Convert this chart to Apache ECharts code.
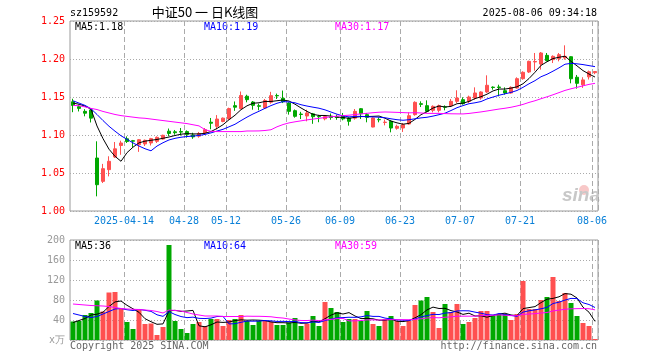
<!DOCTYPE html>
<html><head><meta charset="utf-8">
<script src="https://cdn.jsdelivr.net/npm/echarts@6/dist/echarts.min.js"></script>
<style>html,body{margin:0;padding:0;background:#fff}#c{width:660px;height:360px}</style>
</head><body><div id="c"></div>
<script>
const dates = ['2025-03-31','2025-04-01','2025-04-02','2025-04-03','2025-04-07','2025-04-08','2025-04-09','2025-04-10','2025-04-11',
'2025-04-14','2025-04-15','2025-04-16','2025-04-17','2025-04-18','2025-04-21','2025-04-22','2025-04-23','2025-04-24','2025-04-25',
'2025-04-28','2025-04-29','2025-04-30','2025-05-06','2025-05-07','2025-05-08','2025-05-09',
'2025-05-12','2025-05-13','2025-05-14','2025-05-15','2025-05-16','2025-05-19','2025-05-20','2025-05-21','2025-05-22','2025-05-23',
'2025-05-26','2025-05-27','2025-05-28','2025-05-29','2025-05-30','2025-06-03','2025-06-04','2025-06-05','2025-06-06',
'2025-06-09','2025-06-10','2025-06-11','2025-06-12','2025-06-13','2025-06-16','2025-06-17','2025-06-18','2025-06-19','2025-06-20',
'2025-06-23','2025-06-24','2025-06-25','2025-06-26','2025-06-27','2025-06-30','2025-07-01','2025-07-02','2025-07-03','2025-07-04',
'2025-07-07','2025-07-08','2025-07-09','2025-07-10','2025-07-11','2025-07-14','2025-07-15','2025-07-16','2025-07-17','2025-07-18',
'2025-07-21','2025-07-22','2025-07-23','2025-07-24','2025-07-25','2025-07-28','2025-07-29','2025-07-30','2025-07-31','2025-08-01',
'2025-08-04','2025-08-05','2025-08-06'];
const opens = [1.1437,1.1373,1.1311,1.1330,1.0697,1.0390,1.0544,1.0712,1.0862,1.0950,
1.0925,1.0872,1.0882,1.0895,1.0917,1.0947,1.1050,1.1042,1.1045,1.1045,
1.1000,1.0985,1.1026,1.1168,1.1114,1.1178,1.1212,1.1386,1.1348,1.1510,
1.1434,1.1385,1.1355,1.1432,1.1520,1.1483,1.1421,1.1320,1.1275,1.1250,
1.1278,1.1245,1.1213,1.1236,1.1236,1.1252,1.1224,1.1222,1.1346,1.1268,
1.1105,1.1205,1.1165,1.1180,1.1088,1.1092,1.1145,1.1268,1.1412,1.1386,
1.1325,1.1325,1.1370,1.1386,1.1443,1.1465,1.1443,1.1487,1.1487,1.1566,
1.1630,1.1632,1.1583,1.1553,1.1618,1.1741,1.1829,1.1961,1.1934,1.2048,
1.1991,1.2004,1.2013,1.2030,1.1760,1.1660,1.1765,1.1820];
const closes = [1.1388,1.1350,1.1287,1.1222,1.0346,1.0557,1.0654,1.0818,1.0895,1.0914,
1.0918,1.0938,1.0930,1.0952,1.0969,1.0996,1.1020,1.1030,1.1038,1.1008,
1.0975,1.1020,1.1070,1.1155,1.1210,1.1222,1.1348,1.1366,1.1520,1.1465,
1.1390,1.1378,1.1454,1.1518,1.1515,1.1437,1.1311,1.1246,1.1270,1.1290,
1.1241,1.1240,1.1242,1.1230,1.1230,1.1212,1.1180,1.1311,1.1280,1.1232,
1.1224,1.1200,1.1169,1.1092,1.1114,1.1136,1.1254,1.1430,1.1403,1.1311,
1.1377,1.1386,1.1366,1.1443,1.1487,1.1412,1.1500,1.1553,1.1566,1.1654,
1.1625,1.1625,1.1553,1.1627,1.1741,1.1825,1.1969,1.1967,1.2079,1.1978,
1.2035,1.2057,1.2035,1.1740,1.1680,1.1725,1.1832,1.1835];
const lows = [1.1300,1.1310,1.1246,1.1165,1.0193,1.0368,1.0456,1.0697,1.0740,1.0895,
1.0840,1.0778,1.0855,1.0862,1.0895,1.0939,1.0985,1.1004,1.0993,1.0965,
1.0950,1.0965,1.1013,1.1075,1.1075,1.1167,1.1200,1.1318,1.1338,1.1430,
1.1333,1.1325,1.1342,1.1412,1.1474,1.1420,1.1268,1.1228,1.1210,1.1180,
1.1147,1.1168,1.1193,1.1200,1.1200,1.1193,1.1123,1.1202,1.1210,1.1167,
1.1101,1.1167,1.1127,1.1035,1.1070,1.1040,1.1136,1.1254,1.1368,1.1298,
1.1298,1.1298,1.1325,1.1368,1.1421,1.1400,1.1421,1.1465,1.1465,1.1553,
1.1596,1.1509,1.1531,1.1544,1.1610,1.1728,1.1816,1.1846,1.1860,1.1969,
1.1947,1.1969,1.1991,1.1680,1.1610,1.1620,1.1730,1.1800];
const highs = [1.1477,1.1400,1.1340,1.1345,1.0917,1.0620,1.0720,1.0908,1.0925,1.0982,
1.0935,1.0947,1.0940,1.0962,1.0982,1.1004,1.1085,1.1066,1.1092,1.1061,
1.1030,1.1040,1.1092,1.1224,1.1262,1.1230,1.1360,1.1441,1.1572,1.1530,
1.1447,1.1412,1.1474,1.1568,1.1545,1.1585,1.1430,1.1336,1.1305,1.1333,
1.1290,1.1265,1.1260,1.1283,1.1268,1.1290,1.1237,1.1342,1.1355,1.1290,
1.1232,1.1232,1.1202,1.1193,1.1136,1.1158,1.1298,1.1443,1.1443,1.1456,
1.1390,1.1400,1.1390,1.1474,1.1588,1.1496,1.1518,1.1627,1.1575,1.1785,
1.1640,1.1662,1.1627,1.1640,1.1759,1.1838,1.1978,1.2079,1.2092,1.2079,
1.2048,1.2079,1.2180,1.2035,1.1790,1.1760,1.1848,1.1840];
const volumes = [37,38,50,54,79,57,95,96,63,36,
22,60,32,33,10,26,190,38,22,14,
32,36,28,42,42,28,40,42,50,38,
30,38,38,37,30,30,35,44,28,33,
48,28,76,64,56,36,42,42,38,58,
32,28,42,48,38,28,38,70,79,86,
56,24,72,56,72,32,36,44,58,58,
48,52,52,40,52,118,62,62,80,86,
126,78,94,74,48,34,28,2];
// moving-average values before enough history exists
const priceMA5Head = [1.142,1.1405,1.138,1.134];
const priceMA10Head = [1.145,1.142,1.139,1.1345,1.127,1.119,1.1115,1.105,1.099];
const priceMA30Head = [1.139,1.1385,1.137,1.135,1.1335,1.131,1.129,1.127,1.1255,1.1245,
1.1235,1.1225,1.122,1.121,1.120,1.119,1.118,1.117,1.116,1.115,
1.1135,1.112,1.107,1.1048,1.1045,1.1045,1.1045,1.1045,1.1045];
const volMA5Head = [35,39,43,50];
const volMA10Head = [53,50,47,45,47,52,57,62,63];
const volMA30Head = [72,71,70,69,68.5,68,67,65,63,62,61.5,61,60,59,57,54,60,59,58,55,52,50,48,48,48,47,47,47,47];
const labeledDates = ['2025-04-14','2025-04-28','2025-05-12','2025-05-26','2025-06-09','2025-06-23','2025-07-07','2025-07-21','2025-08-06'];
const labelTexts = ['2025-04-14','04-28','05-12','05-26','06-09','06-23','07-07','07-21','08-06'];
const priceTicks = [1.00,1.05,1.10,1.15,1.20,1.25];
const volTicks = [0,40,80,120,160,200];
const priceLegend = ['MA5:1.18','MA10:1.19','MA30:1.17'];
const volLegend = ['MA5:36','MA10:64','MA30:59'];
const maColors = ['#000000','#0000ff','#ff00ff'];

function movingAverage(vals, n, head){
  return vals.map((v,i)=>{
    if(i < n-1) return head[i];
    let s = 0; for(let j=i-n+1;j<=i;j++) s += vals[j];
    return s/n;
  });
}
const UP = '#ff5050', DOWN = '#00a800';
const MONO = '"DejaVu Sans Mono", "Liberation Mono", monospace';
const isLabeled = (i, v) => labeledDates.indexOf(v !== undefined ? v : dates[i]) >= 0;

const candleData = dates.map((d,i)=>[opens[i], closes[i], lows[i], highs[i]]);
const volData = volumes.map((v,i)=>({value: v, itemStyle:{color: closes[i] >= opens[i] ? UP : DOWN}}));

const pMA = [movingAverage(closes,5,priceMA5Head), movingAverage(closes,10,priceMA10Head), movingAverage(closes,30,priceMA30Head)];
const vMA = [movingAverage(volumes,5,volMA5Head), movingAverage(volumes,10,volMA10Head), movingAverage(volumes,30,volMA30Head)];

const gridCommon = {left:70, width:528, show:true, borderColor:'#9a9a9a', borderWidth:1, outerBoundsMode:'none', containLabel:false};
const splitV = {show:true, interval:(i,v)=>isLabeled(i,v), lineStyle:{color:'#aaaaaa', type:[5,3], width:1}};
const splitH = {show:true, lineStyle:{color:'#aaaaaa', type:[1,2], width:1}};

const chart = echarts.init(document.getElementById('c'), null, {renderer:'canvas'});
const legendX = [75, 204, 335];
const graphics = [
  {type:'text', x:70, y:13, style:{text:'sz159592', fill:'#000', font:'10px '+MONO, align:'left', verticalAlign:'middle'}},
  {type:'text', x:205, y:12, style:{text:'中证50 一 日K线图', fill:'#000', font:'13px "Noto Sans CJK SC"', align:'center', verticalAlign:'middle'}},
  {type:'text', x:597, y:13, style:{text:'2025-08-06 09:34:18', fill:'#000', font:'10px '+MONO, align:'right', verticalAlign:'middle'}},
  {type:'text', x:70, y:346, style:{text:'Copyright 2025 SINA.COM', fill:'#666', font:'10px '+MONO, align:'left', verticalAlign:'middle'}},
  {type:'text', x:597, y:346, style:{text:'http://finance.sina.com.cn', fill:'#666', font:'10px '+MONO, align:'right', verticalAlign:'middle'}},
  {type:'circle', shape:{cx:584, cy:190, r:5}, style:{fill:'#f8c8c8'}, z:0},
  {type:'text', x:581, y:205, style:{text:'sina', fill:'#c8c8c8', font:'italic bold 19px "Liberation Sans"', align:'center', verticalAlign:'bottom'}, z:0}
];
priceLegend.forEach((t,i)=>graphics.push({type:'text', x:legendX[i], y:27, style:{text:t, fill:maColors[i], font:'10px '+MONO, align:'left', verticalAlign:'middle'}}));
volLegend.forEach((t,i)=>graphics.push({type:'text', x:legendX[i], y:246, style:{text:t, fill:maColors[i], font:'10px '+MONO, align:'left', verticalAlign:'middle'}}));

const option = {
  animation:false,
  backgroundColor:'#fff',
  grid:[Object.assign({top:21, height:190}, gridCommon), Object.assign({top:240, height:100}, gridCommon)],
  xAxis:[
    {type:'category', gridIndex:0, data:dates, boundaryGap:true, axisLine:{show:false}, axisTick:{show:false},
     axisLabel:{interval:(i,v)=>isLabeled(i,v), formatter:(v)=>labelTexts[labeledDates.indexOf(v)], color:'#0a80d8', fontFamily:MONO, fontSize:10, margin:5, padding:[0,6,0,0]},
     splitLine:splitV},
    {type:'category', gridIndex:1, data:dates, boundaryGap:true, axisLine:{show:false}, axisTick:{show:false}, axisLabel:{show:false}, splitLine:splitV}
  ],
  yAxis:[
    {type:'value', gridIndex:0, min:priceTicks[0], max:priceTicks[priceTicks.length-1], interval:0.05, axisLine:{show:false}, axisTick:{show:false},
     axisLabel:{color:'#ff0000', fontFamily:MONO, fontSize:10, margin:5, formatter:(v)=>v.toFixed(2)}, splitLine:splitH},
    {type:'value', gridIndex:1, min:volTicks[0], max:volTicks[volTicks.length-1], interval:40, axisLine:{show:false}, axisTick:{show:false},
     axisLabel:{color:'#999999', fontFamily:MONO, fontSize:10, margin:5, formatter:(v)=> v===0 ? 'x万' : String(v)}, splitLine:splitH}
  ],
  series:[
    {type:'candlestick', xAxisIndex:0, yAxisIndex:0, data:candleData, barWidth:4,
     itemStyle:{color:UP, color0:DOWN, borderColor:UP, borderColor0:DOWN, borderWidth:1}, z:3},
    {type:'line', xAxisIndex:0, yAxisIndex:0, data:pMA[0], symbol:'none', lineStyle:{color:maColors[0], width:1}, z:4},
    {type:'line', xAxisIndex:0, yAxisIndex:0, data:pMA[1], symbol:'none', lineStyle:{color:maColors[1], width:1}, z:4},
    {type:'line', xAxisIndex:0, yAxisIndex:0, data:pMA[2], symbol:'none', lineStyle:{color:maColors[2], width:1}, z:4},
    {type:'bar', xAxisIndex:1, yAxisIndex:1, data:volData, barWidth:5, z:3},
    {type:'line', xAxisIndex:1, yAxisIndex:1, data:vMA[0], symbol:'none', lineStyle:{color:maColors[0], width:1}, z:4},
    {type:'line', xAxisIndex:1, yAxisIndex:1, data:vMA[1], symbol:'none', lineStyle:{color:maColors[1], width:1}, z:4},
    {type:'line', xAxisIndex:1, yAxisIndex:1, data:vMA[2], symbol:'none', lineStyle:{color:maColors[2], width:1}, z:4}
  ],
  graphic:graphics
};
chart.setOption(option);
</script></body></html>
